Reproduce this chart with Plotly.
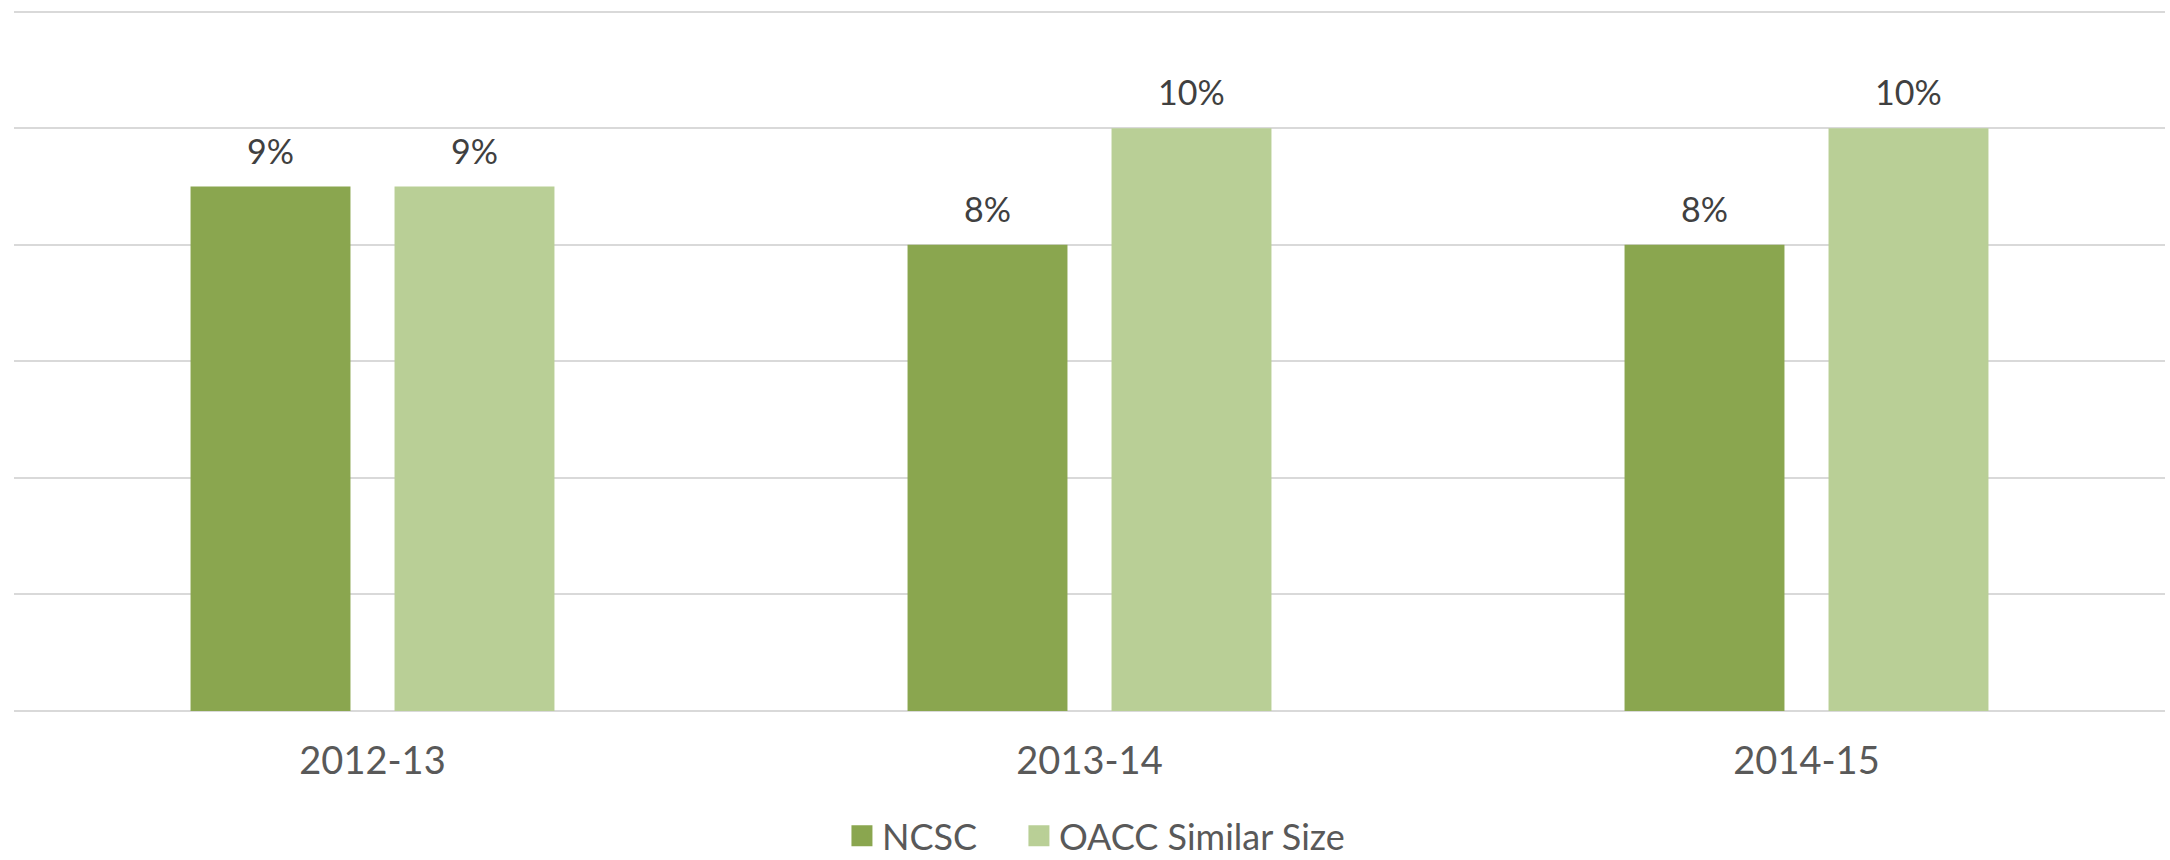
import plotly.graph_objects as go

# Share of students, by year
years = ["2012-13", "2013-14", "2014-15"]
ncsc = [9, 8, 8]
oacc_similar = [9, 10, 10]

series_names = ["NCSC", "OACC Similar Size"]
series_colors = ["#8AA64F", "#B9CF96"]
font_family = "Lato, Carlito, 'Open Sans', sans-serif"
NBSP = "\u00a0"

fig = go.Figure()
for name, vals, color in zip(series_names, [ncsc, oacc_similar], series_colors):
    fig.add_trace(go.Bar(
        x=years, y=vals, name=name, showlegend=False,
        marker=dict(color=color, line=dict(width=0)),
        hoverinfo="x+y+name",
    ))

# Legend entries drawn as large square markers; padded names widen the gap between entries
for i, (name, color) in enumerate(zip(series_names, series_colors)):
    label = name + NBSP * 4 if i < len(series_names) - 1 else name
    fig.add_trace(go.Scatter(
        x=[None], y=[None], name=label, mode="markers",
        marker=dict(symbol="square", size=16, color=color,
                    line=dict(color=color, width=5)),
        hoverinfo="skip",
    ))

# Value labels above the bars; the two bars in a group sit ±102 px from the category centre
offsets = [-102, 102]
for vals, dx in zip([ncsc, oacc_similar], offsets):
    for yr, v in zip(years, vals):
        fig.add_annotation(
            x=yr, y=v, xref="x", yref="y",
            text=f"{v}%", showarrow=False,
            xanchor="center", yanchor="bottom",
            xshift=dx, yshift=14,
            font=dict(family=font_family, size=34, color="#404040"),
        )

fig.update_layout(
    width=2170, height=860,
    margin=dict(l=14, r=5, t=10, b=149, autoexpand=False),
    paper_bgcolor="white", plot_bgcolor="white",
    barmode="group", bargap=0.431, bargroupgap=0.216,
    font=dict(family=font_family, color="#595959"),
    legend=dict(
        orientation="h", x=0.503, xanchor="center",
        y=-0.178, yanchor="middle",
        font=dict(family=font_family, size=36, color="#595959"),
        itemwidth=30, itemsizing="trace", traceorder="normal",
    ),
    showlegend=True,
)
fig.update_xaxes(
    showgrid=False, showline=False, zeroline=False,
    ticks="", ticklabelstandoff=24,
    tickfont=dict(family=font_family, size=38, color="#595959"),
)
fig.update_yaxes(
    range=[0, 12.03], dtick=2, showticklabels=False,
    showgrid=True, gridcolor="#D9D9D9", gridwidth=2,
    zeroline=True, zerolinecolor="#D9D9D9", zerolinewidth=2,
    showline=False,
)

fig.write_html("out.html")
